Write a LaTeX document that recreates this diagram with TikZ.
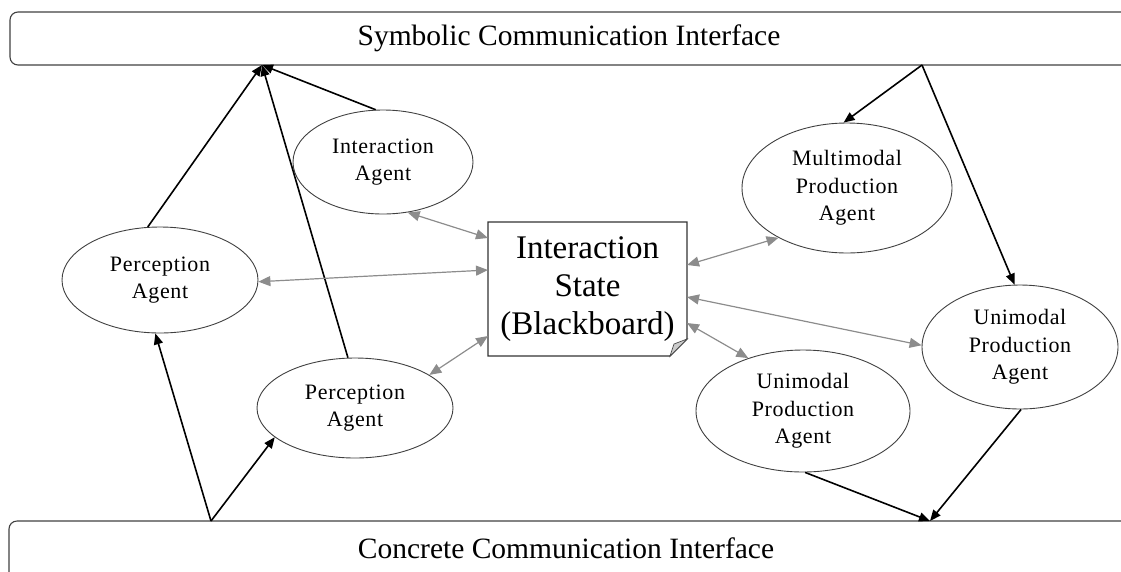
\documentclass[tikz,border=0pt]{standalone}
\usepackage{fontspec}
\setmainfont{Liberation Serif}
\newfontfamily\agentfont[LetterSpace=3]{Liberation Serif}
\usetikzlibrary{arrows.meta,shapes.geometric}

\begin{document}
\begin{tikzpicture}[x=1pt,y=-1pt,
  agent/.style={ellipse, draw=black!75, line width=0.9pt, inner sep=0pt,
    align=center, font=\agentfont\fontsize{22}{27.5}\selectfont},
  iface/.style={draw=black!75, line width=1.1pt, rounded corners=8pt, inner sep=0pt},
  ifacetext/.style={font=\fontsize{29.5}{32}\selectfont, inner sep=0pt},
  board/.style={inner sep=0pt, outer sep=0pt, align=center,
    font=\fontsize{33}{38}\selectfont},
  flow/.style={line width=1.6pt, -{Triangle[length=11pt,width=9pt]}},
  share/.style={draw=black!45, line width=1.2pt,
    {Triangle[length=12pt,width=10pt]}-{Triangle[length=12pt,width=10pt]}},
]
\clip (0,0) rectangle (1121,571);

% interfaces (they run past the right and bottom edges)
\node[iface, minimum width=1130pt, minimum height=53pt] (sym) at (575,38.5) {};
\node[ifacetext] (symtext) at (569,38) {Symbolic Communication Interface};
\node[iface, minimum width=1131pt, minimum height=89pt] (con) at (574.5,565.5) {};
\node[ifacetext] (context) at (566,548) {Concrete Communication Interface};

\coordinate (jt) at (262,65);
\coordinate (jt2) at (922,65);
\coordinate (jb) at (211,521);
\coordinate (jb2) at (930,521);

% agents
\node[agent, minimum width=180pt, minimum height=104pt] (IA) at (383,162) {Interaction\\Agent};
\node[agent, minimum width=196pt, minimum height=106pt] (P1) at (160,280) {Perception\\Agent};
\node[agent, minimum width=196pt, minimum height=100pt] (P2) at (355,408) {Perception\\Agent};
\node[agent, minimum width=210pt, minimum height=130pt] (MM) at (847,188) {Multimodal\\Production\\Agent};
\node[agent, minimum width=196pt, minimum height=124pt] (UR) at (1020,347) {Unimodal\\Production\\Agent};
\node[agent, minimum width=214pt, minimum height=122pt] (UL) at (803,411) {Unimodal\\Production\\Agent};

% blackboard with folded corner
\node[board, minimum width=199pt, minimum height=134pt] (BB) at (587.5,289) {Interaction\\State\\(Blackboard)};
\draw[black!80, line width=1.1pt] (BB.north west) -- (BB.north east)
  -- ([yshift=17pt]BB.south east) -- ([xshift=-17pt]BB.south east)
  -- (BB.south west) -- cycle;
\filldraw[fill=black!20, draw=black!70, line width=0.7pt]
  ([yshift=17pt]BB.south east) -- ([xshift=-17pt]BB.south east)
  -- ([xshift=-13pt,yshift=12pt]BB.south east) -- cycle;

% symbolic flow
\draw[flow] (P1.103) -- (jt);
\draw[flow] (P2.98) -- (jt);
\draw[flow] (IA.98) -- (jt);
\draw[flow] (jt2) -- (MM.93);
\draw[flow] (jt2) -- (UR.95);
% concrete flow
\draw[flow] (jb) -- (P1.265);
\draw[flow] (jb) -- (P2.200);
\draw[flow] (UL.272) -- (jb2);
\draw[flow] (UR.271) -- (jb2);

% blackboard access
\draw[share] (IA.296) -- ([yshift=51pt]BB.west);
\draw[share] (P1.359) -- ([yshift=19pt]BB.west);
\draw[share] (P2.24) -- ([yshift=-47pt]BB.west);
\draw[share] ([yshift=24pt]BB.east) -- (MM.216);
\draw[share] ([yshift=-8pt]BB.east) -- (UR.179);
\draw[share] ([yshift=-34pt]BB.east) -- (UL.136);
\end{tikzpicture}
\end{document}
